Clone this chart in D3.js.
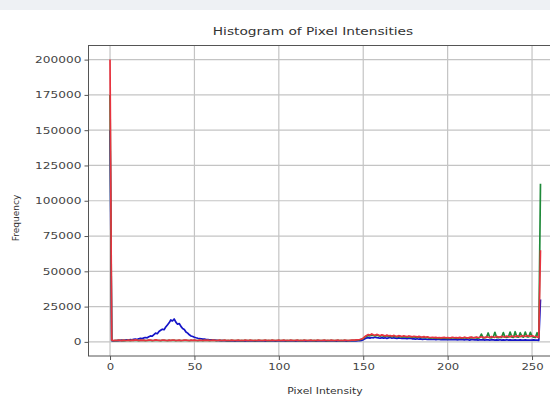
<!DOCTYPE html>
<html><head><meta charset="utf-8">
<script src="https://cdn.jsdelivr.net/npm/d3@7"></script>
<style>body{margin:0;background:#fff}svg{display:block}text{font-family:"DejaVu Sans",sans-serif}</style>
</head><body><svg id="c" width="550" height="398"></svg>
<script>
const xTicks=[0,50,100,150,200,250];
const yTicks=[0,25000,50000,75000,100000,125000,150000,175000,200000];
const blue=[150000,
900,700,800,1000,900,1100,1200,1000,1300,1400,
1200,1600,1500,1800,2000,1700,2200,2500,2300,2800,
3100,2900,3600,4200,4000,5100,6200,5800,7400,8200,
9000,8600,10500,12000,13500,15500,14800,16200,14000,12500,
13000,11000,9500,8800,7000,6200,5000,4200,3800,3300,
2900,2600,2400,2200,2000,1900,1700,1600,1500,1400,
1300,1200,1100,1000,950,900,850,800,780,700,
650,720,680,600,700,650,620,700,660,600,
680,640,700,620,660,600,680,640,700,620,
660,600,680,640,700,620,660,600,680,640,
700,620,660,600,680,640,700,620,660,600,
680,640,700,620,660,600,680,640,700,620,
660,600,680,640,700,620,660,600,680,640,
700,620,660,600,680,640,700,620,660,600,
680,640,700,650,700,750,800,900,1000,1500,
2200,2800,3000,2700,3100,2900,3300,3000,2800,2600,
3000,2700,2900,2500,2800,3100,2600,2900,2700,2500,
2800,2600,2400,2700,2500,2300,2600,2400,2200,2100,
2000,2200,1900,2100,1800,2000,1900,1700,2000,1800,
1700,1900,1600,1800,1700,1500,1800,1600,1700,1500,
1600,1800,1500,1700,1600,1400,1700,1500,1600,1400,
1700,1500,1300,1600,1500,1400,1600,1300,1500,1400,
1600,1300,1500,1400,1300,1500,1400,1200,1400,1300,
1500,1200,1400,1300,1500,1200,1400,1300,1200,1400,
1300,1200,1400,1300,1200,1400,1300,1200,1300,1200,
1400,1300,1200,1100,30000];
const green=[175000,
1000,800,950,900,1100,1000,850,1050,950,1000,
1100,900,1050,1000,1200,1050,900,1100,1000,1050,
900,1000,1150,1050,900,1000,1200,1050,1000,900,
1050,1100,1000,900,1050,1000,1150,1050,900,1000,
1050,900,1000,1100,1050,1000,900,1050,1000,1100,
1000,900,1050,1000,900,1050,1000,1100,900,1000,
1050,1000,900,1000,1050,900,1000,1050,900,1000,
900,1050,1000,900,1000,1050,900,1000,900,1050,
1000,900,1050,1000,900,1000,900,1050,1000,900,
1000,1050,900,1000,900,1050,1000,900,1000,1050,
900,1000,1050,900,1000,900,1050,1000,900,1000,
1050,900,1000,900,1050,1000,900,1000,1050,900,
1000,900,1050,1000,900,1000,1050,900,1000,900,
1050,1000,900,1000,1050,900,1000,900,1050,1000,
900,1000,1050,1150,1100,1300,1400,1600,1900,2400,
3400,4000,4600,4300,4900,4500,4200,4700,4400,4000,
4500,4100,3800,4300,3900,4000,3600,4100,3800,3500,
3900,3700,3400,3800,3600,3300,3700,3500,3200,3600,
3400,3100,3500,3200,3000,3300,2900,3200,2800,2700,
2900,2600,2800,2500,2700,2500,2600,2800,2500,2700,
2500,2600,2900,2600,2800,2500,2900,2700,2600,3000,
2700,2900,2600,3000,2800,3100,2900,2700,3000,5500,
2800,3000,3200,6300,3000,2900,3300,6800,3100,3000,
3400,3200,6600,3300,3100,3500,6900,3400,3200,7200,
3500,3300,6500,3700,3400,7000,3600,3500,6800,3800,
3400,3200,6500,3000,112000];
const red=[200000,
1200,900,1100,1000,1300,1100,900,1200,1000,1100,
1300,1000,1200,1100,1400,1200,1000,1300,1100,1200,
1000,1100,1300,1200,1000,1100,1400,1200,1100,1000,
1200,1300,1100,1000,1200,1100,1300,1200,1000,1100,
1200,1000,1100,1300,1200,1100,1000,1200,1100,1300,
1100,1000,1200,1100,1000,1200,1100,1300,1000,1100,
1200,1100,1000,1100,1200,1000,1100,1200,1000,1100,
1000,1200,1100,1000,1100,1200,1000,1100,1000,1200,
1100,1000,1200,1100,1000,1100,1000,1200,1100,1000,
1100,1200,1000,1100,1000,1200,1100,1000,1100,1200,
1000,1100,1200,1000,1100,1000,1200,1100,1000,1100,
1200,1000,1100,1000,1200,1100,1000,1100,1200,1000,
1100,1000,1200,1100,1000,1100,1200,1000,1100,1000,
1200,1100,1000,1100,1200,1000,1100,1000,1200,1100,
1000,1100,1200,1300,1200,1400,1500,1700,2000,2600,
3800,4500,5200,4800,5600,5000,4700,5300,4900,4400,
5000,4600,4200,4800,4300,4500,4000,4600,4200,3900,
4400,4100,3800,4300,4000,3700,4200,3900,3600,4000,
3800,3500,3900,3600,3400,3700,3300,3600,3200,3100,
3300,3000,3200,2900,3100,2800,3000,3200,2900,3100,
2800,3000,3300,2900,3100,2800,3200,3000,2900,3300,
3000,2800,3200,3400,3000,2900,3500,3100,3300,3600,
3200,3000,3700,3300,3100,3800,3400,3200,3900,3500,
3300,4000,3600,3400,4100,3700,3500,4200,3800,3600,
4300,3900,3700,4400,4000,3800,4500,4100,3900,4400,
4000,3800,3500,3000,65000];
const channels=[{name:"b",data:blue,color:"#1414c8"},{name:"g",data:green,color:"#1f8a3a"},{name:"r",data:red,color:"#e8333f"}];

const svg=d3.select("#c");
svg.append("rect").attr("width",550).attr("height",398).attr("fill","#fff");
svg.append("rect").attr("width",550).attr("height",10).attr("fill","#eef1f4");

const L=88.5,R=562,T=45.5,B=356;
const x=d3.scaleLinear().domain([-12.75,267.75]).range([L,R]);
const y=d3.scaleLinear().domain([-10000,210000]).range([B,T]);

svg.append("clipPath").attr("id","clip").append("rect").attr("x",L).attr("y",T).attr("width",R-L).attr("height",B-T);

// grid
const g=svg.append("g");
g.selectAll(".gx").data(xTicks).enter().append("line").attr("x1",d=>x(d)).attr("x2",d=>x(d)).attr("y1",T).attr("y2",B).attr("stroke","#c4c4c4").attr("stroke-width",1.2);
g.selectAll(".gy").data(yTicks).enter().append("line").attr("x1",L).attr("x2",R).attr("y1",d=>y(d)).attr("y2",d=>y(d)).attr("stroke","#c4c4c4").attr("stroke-width",1.2);

// lines
const line=d3.line().x((d,i)=>x(i)).y(d=>y(d));
const lg=svg.append("g").attr("clip-path","url(#clip)");
channels.forEach(c=>{
  lg.append("path").datum(c.data).attr("d",line).attr("fill","none").attr("stroke",c.color).attr("stroke-width",1.7).attr("stroke-linejoin","round");
});

// spines
svg.append("rect").attr("x",L).attr("y",T).attr("width",R-L).attr("height",B-T).attr("fill","none").attr("stroke","#555").attr("stroke-width",1);

// axes
const xa=svg.append("g").attr("transform",`translate(0,${B})`).call(d3.axisBottom(x).tickValues(xTicks).tickSize(4).tickFormat(d3.format("d")));
const ya=svg.append("g").attr("transform",`translate(${L},0)`).call(d3.axisLeft(y).tickValues(yTicks).tickSize(4).tickFormat(d3.format("d")));
[xa,ya].forEach(a=>{a.select(".domain").remove();a.selectAll("line").attr("stroke","#555");a.selectAll("text").attr("fill","#444").attr("font-size",9).attr("font-family","DejaVu Sans");});
xa.selectAll("text").attr("y",8).attr("dy","0.71em").attr("x",0).attr("transform","scale(1.3,1)");
ya.selectAll("text").attr("transform","scale(1.35,1)").attr("dy","0.32em").attr("x",-7/1.35);

function stext(txt,px,py,size,sx,anchor,rot){
  return svg.append("text").text(txt).attr("font-size",size).attr("fill","#333").attr("text-anchor",anchor||"middle")
   .attr("transform",`translate(${px},${py})`+(rot?` rotate(${rot})`:"")+` scale(${sx},1)`);
}
stext("Histogram of Pixel Intensities",313,35,11,1.25,"middle");
stext("Pixel Intensity",325,394,9,1.2,"middle");
stext("Frequency",19,218,9,1.0,"middle",-90);
</script></body></html>
